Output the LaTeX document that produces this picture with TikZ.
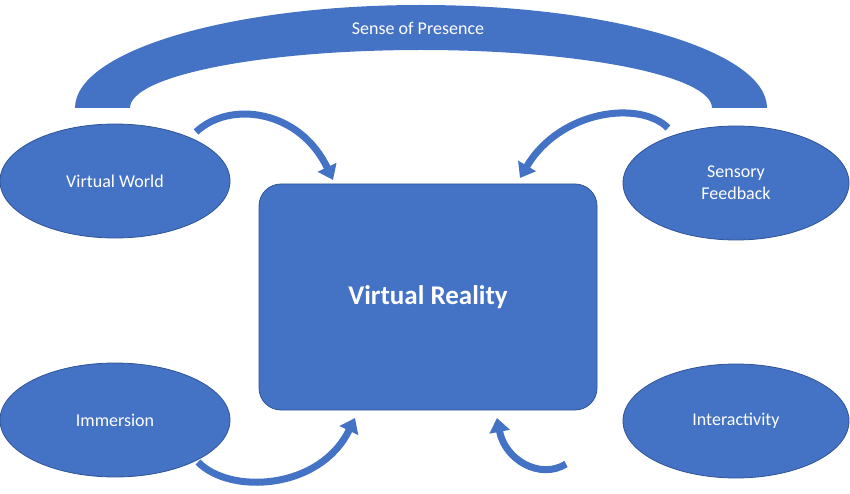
\documentclass[tikz,border=0pt]{standalone}
\usepackage{fontspec}
\setmainfont{Carlito}
\usetikzlibrary{arrows.meta,shapes.geometric}
\definecolor{vb}{HTML}{4472C4}
\definecolor{vbd}{HTML}{2F5597}
\begin{document}
\begin{tikzpicture}[x=1pt,y=-1pt,
  ell/.style={ellipse,fill=vb,draw=vbd,line width=0.8pt,text=white,font=\fontsize{18}{22}\selectfont,align=center,inner sep=0pt},
  arr/.style={draw=vb,line width=7pt,-{Triangle[width=20pt,length=14pt]}}]
\useasboundingbox (0,0) rectangle (850,494);
% arch
\fill[vb] (75,108) arc[start angle=180,end angle=360,x radius=346,y radius=103]
  -- (712,108) arc[start angle=0,end angle=-180,x radius=291,y radius=58] -- cycle;
\node[text=white,font=\fontsize{18}{22}\selectfont] (sp) at (418,28) {Sense of Presence};
% center
\node[fill=vb,draw=vbd,line width=0.8pt,rounded corners=22pt,minimum width=338pt,minimum height=226pt,text=white,font=\bfseries\fontsize{27}{32}\selectfont] (vr) at (428,297) {Virtual Reality};
\node[ell,minimum width=230pt,minimum height=114pt] (vw) at (115,181) {Virtual World};
\node[ell,minimum width=226pt,minimum height=114pt] (sf) at (736,183) {Sensory\\Feedback};
\node[ell,minimum width=230pt,minimum height=114pt] (im) at (115,420) {Immersion};
\node[ell,minimum width=226pt,minimum height=114pt] (ia) at (736,421) {Interactivity};
\coordinate (a1) at (196,132); \coordinate (b1) at (333,180);
\coordinate (a2) at (668,128); \coordinate (b2) at (520,178);
\coordinate (a3) at (198,462); \coordinate (b3) at (355,418);
\coordinate (a4) at (566,464); \coordinate (b4) at (497,418);
\draw[arr] (a1) .. controls (230,100) and (300,110) .. (b1);
\draw[arr] (a2) .. controls (640,100) and (560,110) .. (b2);
\draw[arr] (a3) .. controls (230,495) and (320,490) .. (b3);
\draw[arr] (a4) .. controls (540,480) and (505,460) .. (b4);
\end{tikzpicture}
\end{document}
